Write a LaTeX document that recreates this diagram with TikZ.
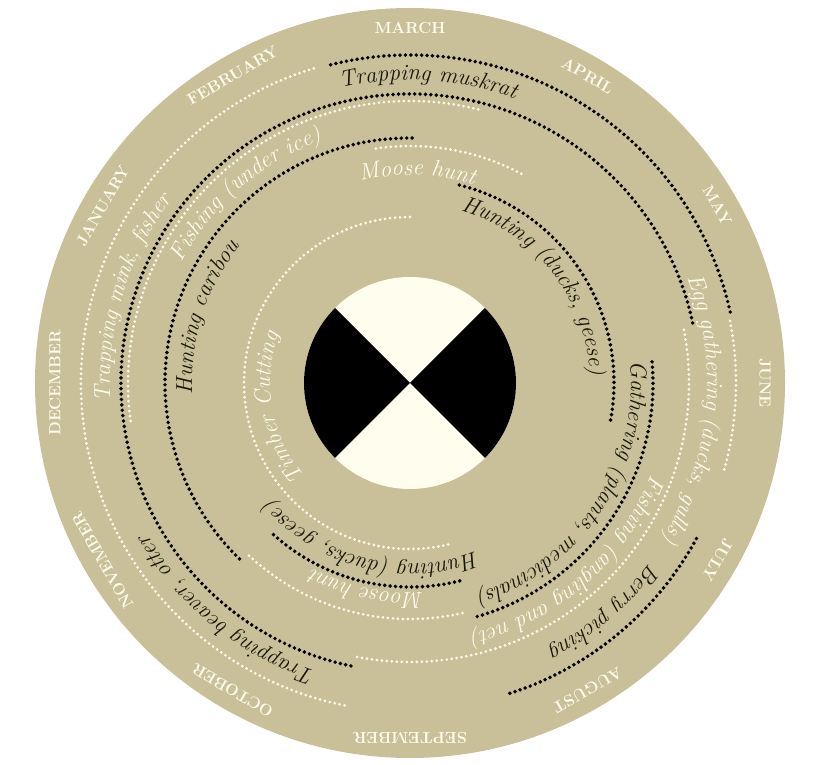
\documentclass[tikz,border=0pt]{standalone}
\usepackage{tikz}
\usepackage{xcolor}
\usetikzlibrary{decorations.text}

\definecolor{diskfill}{RGB}{201,192,153}
\definecolor{cream}{RGB}{255,253,238}
\definecolor{ink}{RGB}{22,20,8}
\newcommand\lblfont{\itshape\fontsize{23}{27}\selectfont}
% text along a clockwise arc: colour, baseline radius, middle angle, text
\newcommand\ringtext[4]{%
  \path[decorate, decoration={text along path, text color=#1, text align=center,
      text={|\lblfont|#4}}]
    ({#3+70}:#2pt) arc[start angle={#3+70}, end angle={#3-70}, radius=#2pt];}

\begin{document}
\begin{tikzpicture}[
      x=1pt, y=1pt,
      bdots/.style={draw=black, line width=3.9pt, line cap=round, dash pattern=on 0pt off 5.4pt},
      wdots/.style={draw=cream, line width=3pt, line cap=round, dash pattern=on 0pt off 5pt},
      month/.style={text=cream, font=\bfseries\fontsize{16}{19}\selectfont, inner sep=0pt}
  ]
    \useasboundingbox (-410,-382) rectangle (409,383);
    \fill[diskfill] (0,0) circle[radius=375pt];

    % centre
    \fill[cream] (0,0) circle[radius=106pt];
    \fill[black] (0,0) -- (135:106pt) arc[start angle=135, end angle=225, radius=106pt] -- cycle;
    \fill[black] (0,0) -- (-45:106pt) arc[start angle=-45, end angle=45, radius=106pt] -- cycle;

    % months
    \node[month, rotate=0] (mar) at (90:355pt) {MARCH};
    \node[month, rotate=-30] (apr) at (60:355pt) {APRIL};
    \node[month, rotate=-60] (may) at (30:355pt) {MAY};
    \node[month, rotate=-90] (jun) at (0:355pt) {JUNE};
    \node[month, rotate=-120] (jul) at (-30:355pt) {JULY};
    \node[month, rotate=-150] (aug) at (-60:355pt) {AUGUST};
    \node[month, rotate=180] (sep) at (-90:355pt) {SEPTEMBER};
    \node[month, rotate=150] (oct) at (-120:355pt) {OCTOBER};
    \node[month, rotate=120] (nov) at (-150:355pt) {NOVEMBER};
    \node[month, rotate=90] (dec) at (180:355pt) {DECEMBER};
    \node[month, rotate=60] (jan) at (150:355pt) {JANUARY};
    \node[month, rotate=30] (feb) at (120:355pt) {FEBRUARY};

    % black dotted arcs
    \draw[bdots] (104:328pt) arc[start angle=104, end angle=12, radius=328pt];
    \draw[bdots] (12:289pt) arc[start angle=12, end angle=259, radius=289pt];
    \draw[bdots] (89.5:245pt) arc[start angle=89.5, end angle=227, radius=245pt];
    \draw[bdots] (76:204pt) arc[start angle=76, end angle=-10.5, radius=204pt];
    \draw[bdots] (5:243pt) arc[start angle=5, end angle=-74, radius=243pt];
    \draw[bdots] (-28.5:326pt) arc[start angle=-28.5, end angle=-73, radius=326pt];
    \draw[bdots] (228:204pt) arc[start angle=228, end angle=285, radius=204pt];

    % white dotted arcs
    \draw[wdots] (107:329pt) arc[start angle=107, end angle=259, radius=329pt];
    \draw[wdots] (76:282pt) arc[start angle=76, end angle=188, radius=282pt];
    \draw[wdots] (62:237pt) arc[start angle=62, end angle=99, radius=237pt];
    \draw[wdots] (11:326pt) arc[start angle=11, end angle=-16, radius=326pt];
    \draw[wdots] (11:279pt) arc[start angle=11, end angle=-101, radius=279pt];
    \draw[wdots] (227:236pt) arc[start angle=227, end angle=284, radius=236pt];
    \draw[wdots] (90:166pt) arc[start angle=90, end angle=284, radius=166pt];

    % activities
    \ringtext{ink}{303}{86.5}{Trapping muskrat}
    \ringtext{cream}{300}{163}{Trapping mink, fisher}
    \ringtext{ink}{303}{231}{Trapping beaver, otter}
    \ringtext{cream}{258}{131}{Fishing (under ice)}
    \ringtext{ink}{218}{162}{Hunting caribou}
    \ringtext{cream}{208}{88}{Moose hunt}
    \ringtext{ink}{180}{38}{Hunting (ducks, geese)}
    \ringtext{cream}{297}{-5.5}{Egg gathering (ducks, gulls)}
    \ringtext{cream}{258}{-48.7}{Fishing (angling and net)}
    \ringtext{ink}{221}{-33.5}{Gathering (plants, medicinals)}
    \ringtext{ink}{300}{-49.7}{Berry picking}
    \ringtext{ink}{181}{255.7}{Hunting (ducks, geese)}
    \ringtext{cream}{210}{258}{Moose hunt}
    \ringtext{cream}{140}{190.8}{Timber Cutting}
  \end{tikzpicture}
\end{document}
